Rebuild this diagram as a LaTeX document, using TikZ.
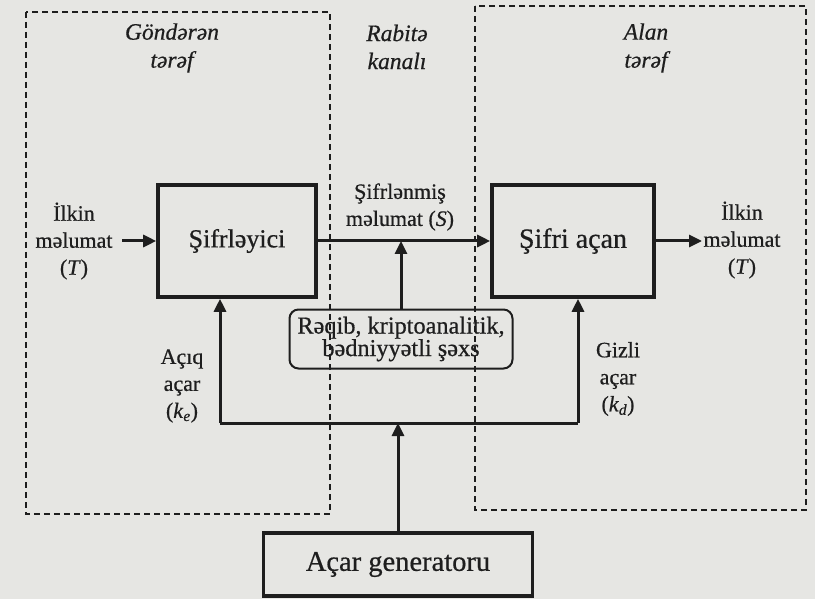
\documentclass[tikz,border=0pt]{standalone}
\usepackage{fontspec}
\setmainfont{Liberation Serif}[FakeBold=0.6]
\usetikzlibrary{arrows.meta}
\definecolor{paper}{RGB}{230,230,227}
\definecolor{ink}{RGB}{30,30,30}
\tikzset{
  box/.style={draw=ink, line width=3.6pt, inner sep=0pt, text=ink, font=\fontsize{26}{28}\selectfont},
  evebox/.style={draw=ink, line width=2pt, rounded corners=9pt, inner sep=0pt, text=ink, align=center, font=\fontsize{24.3}{22.5}\selectfont},
  lbl/.style={text=ink, align=center, inner sep=0pt, font=\fontsize{22}{27}\selectfont},
  hdr/.style={text=ink, align=center, inner sep=0pt, font=\fontsize{23.5}{28}\selectfont\itshape},
  conn/.style={draw=ink, line width=3pt},
  arr/.style={conn, -{Triangle[length=13pt,width=12pt]}},
  region/.style={draw=ink, line width=1.8pt, dash pattern=on 6pt off 4pt},
}
\begin{document}
\begin{tikzpicture}[x=1pt,y=-1pt]
\fill[paper] (0,0) rectangle (815,599);
\useasboundingbox (0,0) rectangle (815,599);
% regions
\draw[region] (26,12) rectangle (330,514);
\draw[region] (475,6) rectangle (806,510);
% headers
\node[hdr] (hsend) at (172,48) {Göndərən\\tərəf};
\node[hdr] (hchan) at (397,47) {Rabitə\\kanalı};
\node[hdr] (hrecv) at (646,48) {Alan\\tərəf};
% main boxes
\node[box, minimum width=158pt, minimum height=112pt] (enc) at (237,241) {Şifrləyici};
\node[box, minimum width=162pt, minimum height=112pt, font=\fontsize{28}{30}\selectfont] (dec) at (573,241) {Şifri açan};
\node[evebox, minimum width=223pt, minimum height=59pt] (eve) at (401,339) {Rəqib, kriptoanalitik,\\bədniyyətli şəxs};
\node[box, minimum width=269pt, minimum height=63pt, font=\fontsize{28.5}{30}\selectfont] (gen) at (398,564.5) {Açar generatoru};
% labels
\node[lbl] (inT) at (74,241) {İlkin\\məlumat\\(\textit{T})};
\node[lbl] (outT) at (742,240) {İlkin\\məlumat\\(\textit{T})};
\node[lbl] (cipher) at (400,207) {Şifrlənmiş\\məlumat (\textit{S})};
\node[lbl] (kenc) at (182,386) {Açıq\\açar\\(\textit{k}\textsubscript{\textit{e}})};
\node[lbl] (kdec) at (618,379) {Gizli\\açar\\(\textit{k}\textsubscript{\textit{d}})};
% connectors
\coordinate (inEnd) at (122,241);
\draw[arr] (inEnd) -- (enc.west);
\draw[arr] (enc.east) -- (dec.west);
\coordinate (outEnd) at (702,241);
\draw[arr] (dec.east) -- (outEnd);
\draw[arr] (eve.north) -- (eve.north |- enc.east);
\coordinate (kL) at (220,423);
\coordinate (kR) at (578,423);
\draw[conn] (kL) -- (kR);
\draw[arr] (kL) -- (kL |- enc.south);
\draw[arr] (kR) -- (kR |- dec.south);
\draw[arr] (gen.north) -- (gen.north |- kL);
\end{tikzpicture}
\end{document}
